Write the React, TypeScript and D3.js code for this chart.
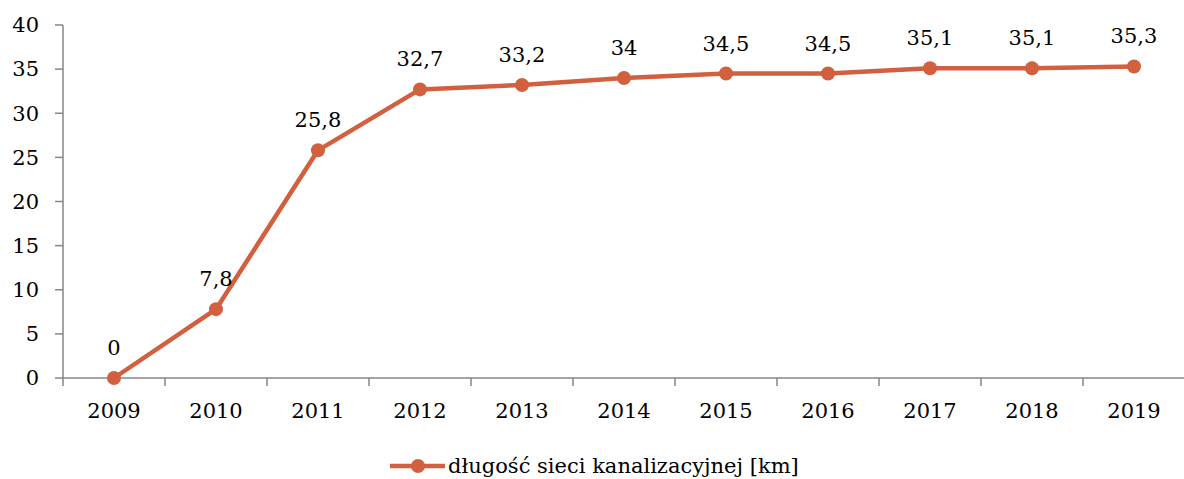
import React from "react";
import * as d3 from "d3";

const years = ["2009", "2010", "2011", "2012", "2013", "2014", "2015", "2016", "2017", "2018", "2019"];
const values = [0, 7.8, 25.8, 32.7, 33.2, 34, 34.5, 34.5, 35.1, 35.1, 35.3];
const yTicks = [0, 5, 10, 15, 20, 25, 30, 35, 40];
const seriesName = "długość sieci kanalizacyjnej [km]";

const W = 1184;
const H = 479;
const left = 63;
const right = 1185;
const top = 25;
const bottom = 378;
const color = "#D2603F";
const axisColor = "#868686";
const font = "'DejaVu Serif', 'Liberation Serif', serif";
const fs = 21;

export default function App() {
  const x = d3.scaleBand<string>().domain(years).range([left, right]);
  const y = d3.scaleLinear().domain([0, 40]).range([bottom, top]);
  const cx = (d: string) => (x(d) as number) + x.bandwidth() / 2;
  const line = d3
    .line<number>()
    .x((_, i) => cx(years[i]))
    .y((v) => y(v));
  const fmt = (v: number) => String(v).replace(".", ",");
  const tickEdges = years.map((d) => x(d) as number).concat([right]);

  return (
    <svg
      width={W}
      height={H}
      style={{ position: "absolute", left: 0, top: 0, background: "#fff" }}
      fontFamily={font}
    >
      {/* y axis */}
      <line x1={left} x2={left} y1={top} y2={bottom} stroke={axisColor} strokeWidth={1.5} />
      {yTicks.map((t) => (
        <g key={t}>
          <line x1={left - 8} x2={left} y1={y(t)} y2={y(t)} stroke={axisColor} strokeWidth={1.5} />
          <text x={39} y={y(t)} dy="0.35em" textAnchor="end" fontSize={fs} fill="#000">
            {t}
          </text>
        </g>
      ))}
      {/* x axis */}
      <line x1={left} x2={right} y1={bottom} y2={bottom} stroke={axisColor} strokeWidth={1.5} />
      {tickEdges.map((e, i) => (
        <line key={i} x1={e} x2={e} y1={bottom} y2={bottom + 8} stroke={axisColor} strokeWidth={1.5} />
      ))}
      {years.map((d) => (
        <text key={d} x={cx(d)} y={418} textAnchor="middle" fontSize={fs} fill="#000">
          {d}
        </text>
      ))}
      {/* series */}
      <path d={line(values) || ""} fill="none" stroke={color} strokeWidth={4.5} strokeLinejoin="round" />
      {values.map((v, i) => (
        <g key={i}>
          <circle cx={cx(years[i])} cy={y(v)} r={7} fill={color} />
          <text x={cx(years[i])} y={y(v) - 23} textAnchor="middle" fontSize={fs} fill="#000">
            {fmt(v)}
          </text>
        </g>
      ))}
      {/* legend */}
      <line x1={390} x2={445} y1={466} y2={466} stroke={color} strokeWidth={4.5} />
      <circle cx={418} cy={466} r={7} fill={color} />
      <text x={448} y={473} fontSize={fs} fill="#000">
        {seriesName}
      </text>
    </svg>
  );
}
